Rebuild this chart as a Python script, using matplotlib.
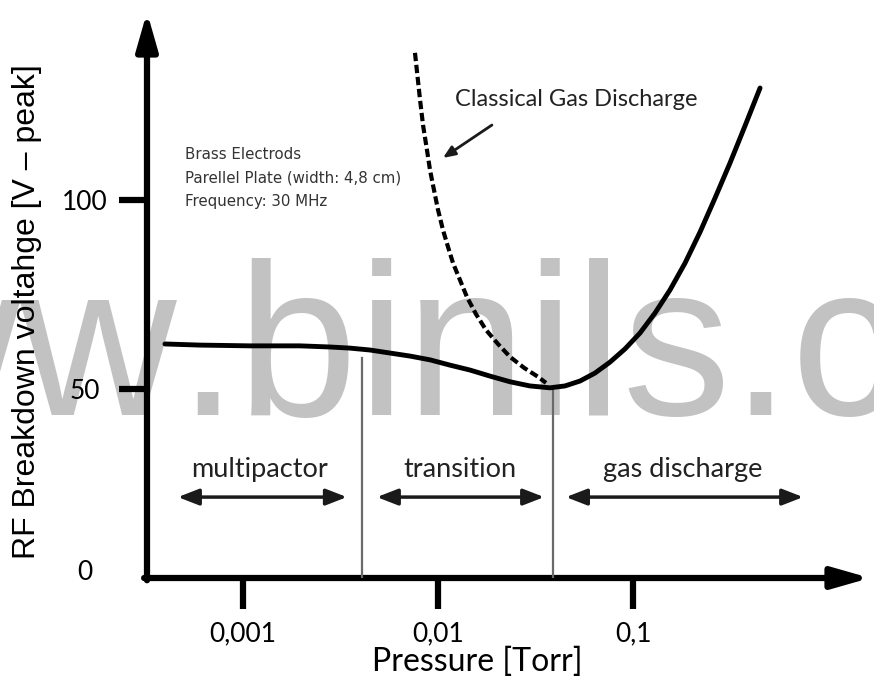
import numpy as np
import matplotlib
matplotlib.use("Agg")
import matplotlib.pyplot as plt
from matplotlib.ticker import NullLocator
from matplotlib.transforms import ScaledTranslation

# breakdown curve (pressure in Torr, voltage in V peak)
solid_p = [0.000398, 0.000602, 0.001086, 0.00196, 0.00279, 0.00354, 0.00448,
           0.00567, 0.00718, 0.0091, 0.01152, 0.01459, 0.01848, 0.0234, 0.0296,
           0.0375, 0.0448, 0.0535, 0.0638, 0.0762, 0.0910, 0.1086, 0.1297,
           0.1548, 0.1848, 0.2206, 0.2633, 0.3144, 0.3752, 0.448]
solid_v = [61.9, 61.6, 61.4, 61.4, 61.1, 60.8, 60.3, 59.5, 58.7, 57.7, 56.3,
           55.0, 53.4, 51.9, 50.8, 50.3, 50.8, 52.1, 54.2, 57.1, 60.6, 64.8,
           70.1, 76.2, 83.3, 91.5, 100.5, 109.8, 119.6, 129.6]

# classical gas discharge branch
dashed_p = [0.00762, 0.00809, 0.00838, 0.00878, 0.0091, 0.00954, 0.0100,
            0.0106, 0.01125, 0.01194, 0.01297, 0.01408, 0.01566, 0.01763,
            0.0203, 0.0234, 0.0276, 0.0326, 0.0358]
dashed_v = [138.9, 126.5, 119.8, 113.2, 107.9, 102.6, 97.4, 92.1, 87.6, 83.3,
            78.8, 74.3, 69.8, 65.6, 61.9, 58.5, 55.6, 53.2, 51.6]

# regime boundaries
boundary_p = [0.00406, 0.0389]
boundary_top = [58.2, 50.3]

regions = ["multipactor", "transition", "gas discharge"]
region_center = [0.00122, 0.0130, 0.180]
region_start = [0.000464, 0.00486, 0.0453]
region_end = [0.00341, 0.0350, 0.745]

xticks = [0.001, 0.01, 0.1]
xticklabels = ["0,001", "0,01", "0,1"]
yticks = [0, 50, 100]
yticklabels = ["0", "50", "100"]

info_lines = ["Brass Electrods", "Parellel Plate (width: 4,8 cm)", "Frequency: 30 MHz"]

W, H = 874, 685
fig = plt.figure(figsize=(W / 100, H / 100), dpi=100)

# watermark behind everything
wm_x = 177 / W
wm_y = 1 - 415 / H
for txt, ha in [(".binils.com", "left"), ("www", "right")]:
    fig.text(wm_x, wm_y, txt, ha=ha, va="baseline", fontsize=156,
             family="Liberation Sans", color="#c2c2c2", zorder=-5)

ax = fig.add_axes([147 / W, 1 - 578 / H, (870 - 147) / W, (578 - 12) / H])
ax.patch.set_visible(False)
ax.set_xscale("log")
ax.set_xlim(10 ** -3.492, 10 ** 0.215)
ax.set_ylim(0, 149.7)
for s in ax.spines.values():
    s.set_visible(False)

# axes drawn as thick arrows
arrow_kw = dict(arrowstyle="-|>,head_length=1.4,head_width=0.4", lw=4.5,
                color="black", shrinkA=0, shrinkB=0, mutation_scale=16)
ax.annotate("", xy=(1, 0), xytext=(-0.004, 0), xycoords="axes fraction",
            arrowprops=arrow_kw, annotation_clip=False)
ax.annotate("", xy=(0, 1), xytext=(0, -0.004), xycoords="axes fraction",
            arrowprops=arrow_kw, annotation_clip=False)

ax.set_xticks(xticks)
ax.set_xticklabels(xticklabels)
ax.xaxis.set_minor_locator(NullLocator())
ax.set_yticks(yticks)
ax.set_yticklabels(yticklabels)
ax.tick_params(axis="x", length=22, width=4.5, pad=9, labelsize=19)
ax.tick_params(axis="y", length=20, width=4.5, pad=25, labelsize=19)
for lab in ax.get_xticklabels() + ax.get_yticklabels():
    lab.set_family("Lato")
for lab in ax.get_yticklabels():
    lab.set_horizontalalignment("center")
ax.yaxis.get_major_ticks()[0].tick1line.set_visible(False)
zero_lab = ax.get_yticklabels()[0]
zero_lab.set_transform(zero_lab.get_transform() + ScaledTranslation(0, 8 / 100, fig.dpi_scale_trans))

# curves
ax.plot(solid_p, solid_v, color="black", lw=3.5, solid_capstyle="round",
        solid_joinstyle="round", zorder=4)
ax.plot(dashed_p, dashed_v, color="black", lw=3, dashes=(2, 0.9), zorder=4)

for p, top in zip(boundary_p, boundary_top):
    ax.plot([p, p], [0, top], color="#6a6a6a", lw=1.6, zorder=3)

for name, c, a, b in zip(regions, region_center, region_start, region_end):
    ax.text(c, 28.6, name, ha="center", va="center", fontsize=19.5,
            family="Lato", color="#222222")
    ax.annotate("", xy=(b, 21.4), xytext=(a, 21.4),
                arrowprops=dict(arrowstyle="<|-|>,head_length=0.9,head_width=0.35",
                                lw=2.5, color="#1a1a1a", shrinkA=0, shrinkB=0,
                                mutation_scale=14))

# classical gas discharge label
ax.text(0.01222, 126.5, "Classical Gas Discharge", ha="left", va="center",
        fontsize=17, family="Lato", color="#222222")
ax.annotate("", xy=(0.0106, 111.1), xytext=(0.0189, 119.8),
            arrowprops=dict(arrowstyle="-|>,head_length=0.6,head_width=0.25",
                            lw=2, color="#1a1a1a", shrinkA=0, shrinkB=0,
                            mutation_scale=12))

for i, line in enumerate(info_lines):
    ax.text(0.000505, 111.9 - 6.2 * i, line, ha="left", va="center",
            fontsize=10.8, family="DejaVu Sans", color="#333333")

fig.text(27 / W, 1 - 312 / H, "RF Breakdown voltahge [V \u2013 peak]", rotation=90,
         ha="center", va="center", fontsize=23, family="Liberation Sans")
fig.text(477 / W, 1 - 662 / H, "Pressure [Torr]", ha="center", va="center",
         fontsize=23, family="Lato")

fig.savefig("out.png", dpi=100)
